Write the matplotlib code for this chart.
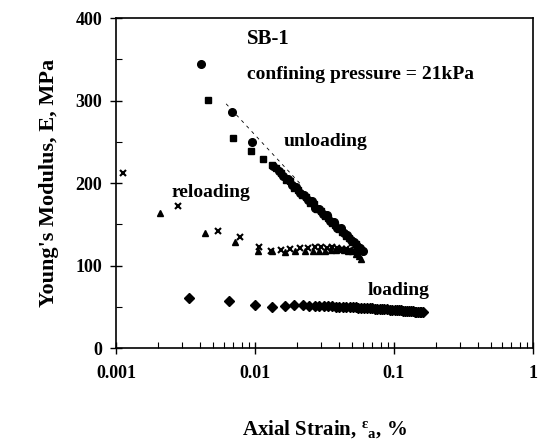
import numpy as np
from matplotlib import pyplot as plt
from matplotlib.ticker import FixedLocator, NullFormatter

plt.rcParams['font.family'] = ['Liberation Serif', 'DejaVu Serif']
plt.rcParams['font.weight'] = 'bold'
plt.rcParams['mathtext.fontset'] = 'custom'
plt.rcParams['mathtext.rm'] = 'Liberation Serif:bold'
plt.rcParams['mathtext.it'] = 'Liberation Serif:bold'
plt.rcParams['mathtext.bf'] = 'Liberation Serif:bold'

# loading (diamonds)
load_x = [0.00335, 0.00647, 0.00995, 0.01325, 0.01652, 0.0191, 0.0223, 0.0245, 0.0268, 0.029,
          0.0312, 0.0335, 0.0358, 0.038, 0.0405, 0.043, 0.0455, 0.048, 0.0505, 0.053,
          0.0555, 0.058, 0.061, 0.064, 0.067, 0.07, 0.073, 0.076, 0.079, 0.082,
          0.085, 0.089, 0.093, 0.097, 0.101, 0.105, 0.109, 0.113, 0.117, 0.121,
          0.125, 0.129, 0.133, 0.137, 0.141, 0.145, 0.149, 0.153, 0.157, 0.1625]
load_y = [60.2, 57.0, 51.8, 49.7, 51.3, 52.1, 51.8, 51.5, 51.4, 51.0,
          51.1, 50.7, 50.6, 50.2, 50.3, 49.9, 49.8, 49.5, 49.4, 49.1,
          49.0, 48.7, 48.6, 48.3, 48.2, 47.9, 47.8, 47.5, 47.4, 47.2,
          47.0, 46.7, 46.6, 46.3, 46.2, 45.9, 45.8, 45.5, 45.4, 45.1,
          45.0, 44.7, 44.6, 44.3, 44.2, 43.9, 43.8, 43.6, 43.5, 43.3]

# unloading (circles and squares)
unl_c_x = [0.00407, 0.0068, 0.00946, 0.0135, 0.0148, 0.016, 0.0172, 0.0185, 0.0198, 0.0212,
           0.0226, 0.024, 0.0256, 0.0272, 0.029, 0.0308, 0.0327, 0.0347, 0.0368, 0.039,
           0.0413, 0.0437, 0.0462, 0.0488, 0.0515, 0.0543, 0.0572, 0.060]
unl_c_y = [344, 286, 250, 221, 214, 209, 205, 197, 195, 188,
           186, 179, 178, 170, 169, 162, 161, 154, 153, 146,
           145, 139, 137, 131, 129, 124, 121, 118]
unl_s_x = [0.00461, 0.00698, 0.00931, 0.01148, 0.0132, 0.0141, 0.0153, 0.0166, 0.0178, 0.0191,
           0.0205, 0.0219, 0.0233, 0.0248, 0.0264, 0.0281, 0.0299, 0.0317, 0.0337, 0.0357,
           0.0379, 0.0401, 0.0425, 0.045, 0.0475, 0.0501, 0.0529, 0.0558, 0.0588]
unl_s_y = [301, 255, 239, 229, 222, 218, 212, 204, 202, 194,
           192, 185, 183, 176, 175, 168, 166, 160, 158, 152,
           149, 144, 141, 136, 133, 129, 126, 121, 117]
fit_x = [0.0062, 0.022]
fit_y = [296, 196]

# reloading (triangles and crosses)
rel_t_x = [0.00207, 0.00437, 0.0072, 0.01045, 0.0132, 0.0164, 0.0194, 0.023, 0.026, 0.029,
           0.032, 0.035, 0.038, 0.041, 0.044, 0.047, 0.05, 0.053, 0.056, 0.058]
rel_t_y = [164, 139, 129, 118, 117, 116, 117, 117, 117, 118,
           118, 119, 119, 120, 119, 118, 117, 114, 111, 108]
rel_x_x = [0.00113, 0.00278, 0.00545, 0.0078, 0.0107, 0.013, 0.0155, 0.018, 0.021, 0.024,
           0.027, 0.03, 0.033, 0.036, 0.039, 0.042, 0.045, 0.048, 0.051, 0.054, 0.057]
rel_x_y = [212.5, 172, 142, 135, 122, 118, 119, 120, 121, 121,
           122, 122, 121, 122, 121, 120, 120, 119, 118, 117, 116]

fig = plt.figure(figsize=(5.41, 4.48), dpi=100)
ax = fig.add_axes([0.2144, 0.2232, 0.7708, 0.7366])

ax.plot(fit_x, fit_y, '--', color='k', lw=0.6, dashes=(4, 5))
ax.plot(load_x, load_y, 'D', color='k', ms=5)
ax.plot(unl_c_x, unl_c_y, 'o', color='k', ms=5.5)
ax.plot(unl_s_x, unl_s_y, 's', color='k', ms=4)
ax.plot(rel_t_x, rel_t_y, '^', color='k', ms=5)
ax.plot(rel_x_x, rel_x_y, 'x', color='k', ms=5, mew=1.5)

ax.set_xscale('log')
ax.set_xlim(0.001, 1)
ax.set_ylim(0, 400)

ax.xaxis.set_major_locator(FixedLocator([0.001, 0.01, 0.1, 1]))
ax.set_xticklabels(['0.001', '0.01', '0.1', '1'])
minors = [m * d for d in [0.001, 0.01, 0.1] for m in range(2, 10)]
ax.xaxis.set_minor_locator(FixedLocator(minors))
ax.xaxis.set_minor_formatter(NullFormatter())
ax.set_yticks([0, 100, 200, 300, 400])
ax.set_yticks([50, 150, 250, 350], minor=True)

ax.tick_params(which='major', direction='inout', length=8, width=1, labelsize=13, pad=8)
ax.tick_params(which='minor', direction='in', length=4, width=0.8)
ax.tick_params(axis='y', which='major', pad=6)
for lab in ax.get_xticklabels() + ax.get_yticklabels():
    lab.set_fontweight('bold')
for sp in ax.spines.values():
    sp.set_linewidth(1.2)

ax.set_ylabel("Young's Modulus, E, MPa", fontsize=16, fontweight='bold', labelpad=12)
ax.set_xlabel(r'Axial Strain, $^{\varepsilon}{}_{\mathrm{a}}$, %', fontsize=15,
              fontweight='bold', labelpad=26)

ax.text(0.0088, 375, 'SB-1', fontsize=15, fontweight='bold', va='center')
ax.text(0.0088, 332, 'confining pressure = 21kPa', fontsize=14, fontweight='bold', va='center')
ax.text(0.0162, 250, 'unloading', fontsize=14, fontweight='bold', va='center')
ax.text(0.00253, 188, 'reloading', fontsize=14, fontweight='bold', va='center')
ax.text(0.065, 70, 'loading', fontsize=14, fontweight='bold', va='center')

plt.savefig('out.png', dpi=100)
